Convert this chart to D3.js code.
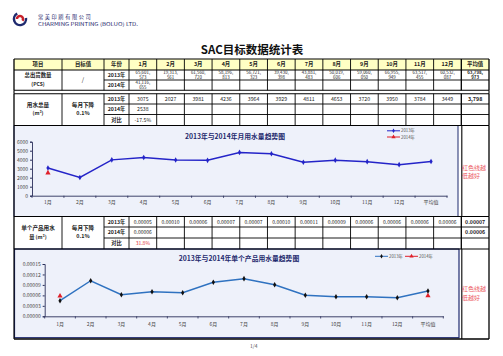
<!DOCTYPE html>
<html><head><meta charset="utf-8">
<script src="https://cdn.jsdelivr.net/npm/d3@7"></script>
<style>body{margin:0;background:#fff}svg{display:block}text{font-family:"Noto Sans CJK SC","DejaVu Sans",sans-serif}</style>
</head><body><svg id="c" width="503" height="356"></svg>
<script>
// ---------- data ----------
const months = ["1月","2月","3月","4月","5月","6月","7月","8月","9月","10月","11月","12月"];
const categories = months.concat(["平均值"]);
const headLabels = ["项目","目标值","年份"];
const shipments2013 = ["65,601,573","19,313,561","61,560,720","58,196,813","56,721,323","39,430,398","43,881,483","50,019,606","59,060,050","66,955,949","63,517,455","60,532,087","63,798,973"];
const shipments2014 = ["41,116,655"];
const water2013 = [3075,2027,3981,4236,3964,3929,4811,4653,3720,3950,3784,3449];
const water2013Avg = 3798;
const water2014 = [2538];
const waterCompare = ["-17.5%"];
const unit2013Text = ["0.00005","0.00010","0.00006","0.00007","0.00007","0.00010","0.00011","0.00009","0.00006","0.00006","0.00006","0.00006"];
const unit2013AvgText = "0.00007";
const unit2014Text = ["0.00006"];
const unit2014AvgText = "0.00006";
const unitCompare = ["31.8%"];
// chart series
const waterChart2013 = [3075,2027,3981,4236,3964,3929,4811,4653,3720,3950,3784,3449,3798];
const waterChart2014 = [2538,null,null,null,null,null,null,null,null,null,null,null,null];
const unitChart2013 = [0.0000447,0.000102,0.000062,0.0000706,0.0000677,0.0000975,0.000108,0.0000906,0.0000602,0.0000562,0.0000562,0.0000533,0.0000726];
const unitChart2014 = [0.0000583,null,null,null,null,null,null,null,null,null,null,null,0.000059];
const waterTicks = [0,1000,2000,3000,4000,5000,6000];
const unitTicks = [0,0.00003,0.00006,0.00009,0.00012,0.00015];
const seriesNames = ["2013年","2014年"];

// ---------- setup ----------
const svg = d3.select("#c");
const NAVY = "#1f2a6e", RED = "#e0202a";
const leftX = [14,62,104,129];
const col = d3.scaleBand().domain(categories).range([129,489]);
const colC = c => col(c) + col.bandwidth()/2;
const R = {top:59, head:70, s1:80, s2:90.3, w0:93.7, w1:104, w2:114.5, w3:125.5, u0:216.5, u1:227, u2:238, u3:249, end:339};

// logo
const logo = svg.append("g").attr("transform","translate(20,19)");
logo.append("circle").attr("r",7.3).attr("fill","#fff");
logo.append("path").attr("d", d3.arc().innerRadius(4.8).outerRadius(7.3).startAngle(Math.PI*0.45).endAngle(Math.PI*1.85)()).attr("fill",NAVY);
logo.append("path").attr("d", d3.arc().innerRadius(1.8).outerRadius(4.3).startAngle(-Math.PI*0.5).endAngle(Math.PI*0.7)()).attr("fill","#c8202a");
svg.append("text").attr("x",38).attr("y",19).attr("font-size",5.2).attr("fill",NAVY).attr("letter-spacing",1.6).text("常美印刷有限公司");
svg.append("text").attr("x",38).attr("y",25.5).attr("font-size",4.8).attr("fill",NAVY).attr("textLength",100).attr("lengthAdjust","spacingAndGlyphs").text("CHARMING PRINTING (BOLUO) LTD.");

// title
svg.append("text").attr("x",252).attr("y",54).attr("text-anchor","middle").attr("font-size",11.5).attr("font-weight","bold").attr("fill","#111").text("SAC目标数据统计表");

// header background
svg.append("rect").attr("x",14).attr("y",R.top).attr("width",475).attr("height",R.head-R.top).attr("fill","#ffffc4");

// chart backgrounds
svg.append("rect").attr("x",14).attr("y",R.w3).attr("width",444).attr("height",R.u0-R.w3).attr("fill","#eef1fa").attr("stroke",NAVY).attr("stroke-width",1);
svg.append("rect").attr("x",14.5).attr("y",R.u3).attr("width",444.5).attr("height",337.7-R.u3).attr("fill","#eef1fa").attr("stroke",NAVY).attr("stroke-width",1.2);

// ---------- table lines ----------
const lines = svg.append("g").attr("stroke","#000").attr("stroke-width",0.9);
function hline(y,x1,x2,w){lines.append("line").attr("x1",x1).attr("x2",x2).attr("y1",y).attr("y2",y).attr("stroke-width",w||0.9);}
function vline(x,y1,y2,w){lines.append("line").attr("x1",x).attr("x2",x).attr("y1",y1).attr("y2",y2).attr("stroke-width",w||0.9);}
[R.top,R.head,R.s2,R.w0,R.w3,R.u0,R.u3].forEach(y=>hline(y,14,489,1.1));
hline(R.end,14,489,1.3);
[R.s1].forEach(y=>hline(y,104,489));
[R.w1,R.w2,R.u1,R.u2].forEach(y=>hline(y,104,489));
const allX = leftX.concat(categories.slice(1).map(c=>col(c))).concat([489]);
[[R.top,R.s2],[R.w0,R.w3],[R.u0,R.u3]].forEach(([a,b])=>{
  allX.forEach(x=>vline(x,a,b, (x===col("平均值")||x===14||x===489)?1.3:0.9));
});
vline(14,R.s2,R.w0,1.1); vline(489,R.s2,R.w0,1.1);
[[R.w3,R.u0],[R.u3,R.end]].forEach(([a,b])=>{vline(14,a,b,1.1);vline(col("平均值")+0.5,a,b,1.1);vline(489,a,b,1.3);});

// ---------- table text ----------
const T = svg.append("g").attr("text-anchor","middle").attr("fill","#222");
function txt(x,y,s,opt){opt=opt||{};return T.append("text").attr("x",x).attr("y",y).attr("dy","0.35em").attr("font-size",opt.size||5.2).attr("font-weight",opt.bold?"bold":null).attr("fill",opt.fill||null).text(s);}
headLabels.forEach((h,i)=>txt((leftX[i]+(leftX[i+1]||129))/2,64.5,h,{bold:true,size:5.4}));
categories.forEach(c=>txt(colC(c),64.5,c,{bold:true,size:5.4}));
txt(38,75.5,"总出货数量",{bold:true,size:5.4}); txt(38,84.5,"(PCS)",{bold:true,size:5});
txt(83,80,"/",{size:6});
txt(116.5,75,"2013年",{bold:true}); txt(116.5,85.2,"2014年",{bold:true});
// clipped wrapped shipment values
const defs = svg.append("defs");
function wrapCell(c,y0,y1,s,bold){
  const id="cl"+Math.round(col(c))+"_"+Math.round(y0);
  defs.append("clipPath").attr("id",id).append("rect").attr("x",col(c)+0.5).attr("y",y0+0.6).attr("width",col.bandwidth()-1).attr("height",y1-y0-1.2);
  const parts = s.split(",");
  const l1 = parts.slice(0,2).join(",")+",", l2 = parts.slice(2).join(",");
  const g = T.append("g").attr("clip-path","url(#"+id+")");
  [[l1,y0+2.5],[l2,y0+7.6]].forEach(([t,yy])=>{
    g.append("text").attr("x",colC(c)).attr("y",yy).attr("dy","0.35em").attr("font-size",4.4)
      .attr("font-family",'"Liberation Sans",sans-serif').attr("font-weight",bold?"bold":null).text(t);
  });
}
shipments2013.forEach((s,i)=>wrapCell(categories[i],R.head,R.s1,s,i===12));
shipments2014.forEach((s,i)=>wrapCell(categories[i],R.s1,R.s2,s,false));

txt(38,105,"用水总量",{bold:true,size:5.6}); txt(38,113.5,"(m³)",{bold:true,size:5.2});
txt(83,105,"每月下降",{bold:true,size:5.6}); txt(83,113,"0.1%",{bold:true,size:5.4});
txt(116.5,99,"2013年",{bold:true}); txt(116.5,109.3,"2014年",{bold:true}); txt(116.5,120,"对比",{bold:true});
water2013.forEach((v,i)=>txt(colC(months[i]),99,String(v)));
txt(colC("平均值"),99,d3.format(",")(water2013Avg),{bold:true,size:5.4});
water2014.forEach((v,i)=>txt(colC(months[i]),109.3,String(v)));
waterCompare.forEach((v,i)=>txt(colC(months[i]),120,v));

txt(38,228.5,"单个产品用水",{bold:true,size:5.6}); txt(38,237,"量 (m³)",{bold:true,size:5.2});
txt(83,228.5,"每月下降",{bold:true,size:5.6}); txt(83,236.5,"0.1%",{bold:true,size:5.4});
txt(116.5,222,"2013年",{bold:true}); txt(116.5,232.5,"2014年",{bold:true}); txt(116.5,243.5,"对比",{bold:true});
unit2013Text.forEach((v,i)=>txt(colC(months[i]),222,v,{size:5}));
txt(colC("平均值"),222,unit2013AvgText,{bold:true,size:5.2});
unit2014Text.forEach((v,i)=>txt(colC(months[i]),232.5,v,{size:5}));
txt(colC("平均值"),232.5,unit2014AvgText,{bold:true,size:5.2});
unitCompare.forEach((v,i)=>txt(colC(months[i]),243.5,v,{size:5,fill:"#e0303a"}));

// note text
[[168,176],[289,298]].forEach(([a,b])=>{
  svg.append("text").attr("x",462).attr("y",a).attr("dy","0.35em").attr("font-size",6).attr("fill","#ec5a64").text("红色线越");
  svg.append("text").attr("x",462).attr("y",b).attr("dy","0.35em").attr("font-size",6).attr("fill","#ec5a64").text("低越好");
});
svg.append("text").attr("x",250).attr("y",346).attr("dy","0.35em").attr("font-size",5).attr("fill","#555").text("1/4");

// ---------- charts ----------
function chart(o){
  const g = svg.append("g");
  const x = d3.scaleBand().domain(categories).range(o.xr);
  const y = d3.scaleLinear().domain(o.yd).range(o.yr);
  const cx = c => x(c)+x.bandwidth()/2;
  g.append("g").attr("transform",`translate(${o.xr[0]},0)`)
    .call(d3.axisLeft(y).tickValues(o.ticks).tickSize(2).tickPadding(2).tickFormat(o.fmt));
  g.append("g").attr("transform",`translate(0,${o.yr[0]})`)
    .call(d3.axisBottom(x).tickSize(0).tickPadding(o.xpad));
  g.selectAll(".domain").attr("stroke","#2a2f5a").attr("stroke-width",0.9);
  g.selectAll(".tick line").attr("stroke","#2a2f5a");
  g.selectAll(".tick text").attr("font-size",5).attr("fill","#444").attr("font-family",'"Noto Sans CJK SC",sans-serif');
  g.append("g").selectAll("line").data(categories.concat(["end"])).join("line")
    .attr("x1",d=>d==="end"?o.xr[1]:x(d)).attr("x2",d=>d==="end"?o.xr[1]:x(d))
    .attr("y1",o.yr[0]).attr("y2",o.yr[0]+2.2).attr("stroke","#2a2f5a").attr("stroke-width",0.8);
  const pts = o.s13.map((v,i)=>({c:categories[i],v}));
  g.append("path").datum(pts).attr("fill","none").attr("stroke",o.lineColor).attr("stroke-width",1.5)
    .attr("d",d3.line().x(d=>cx(d.c)).y(d=>y(d.v)));
  g.selectAll(".m13").data(pts).join("path").attr("transform",d=>`translate(${cx(d.c)},${y(d.v)})`)
    .attr("d",d3.symbol(d3.symbolDiamond).size(9)).attr("fill",o.markColor);
  const p14 = o.s14.map((v,i)=>({c:categories[i],v})).filter(d=>d.v!==null);
  g.selectAll(".m14").data(p14).join("path").attr("transform",d=>`translate(${cx(d.c)},${y(d.v)})`)
    .attr("d",d3.symbol(d3.symbolTriangle).size(12)).attr("fill",RED);
  g.append("text").attr("x",o.title[1]).attr("y",o.title[2]).attr("dy","0.35em").attr("text-anchor","middle")
    .attr("font-size",6.8).attr("font-weight","bold").attr("fill",NAVY).text(o.title[0]);
  // legend
  o.legend.forEach((L,i)=>{
    const col2 = i===0?o.lineColor:RED;
    g.append("line").attr("x1",L[0]).attr("x2",L[0]+13).attr("y1",L[1]).attr("y2",L[1]).attr("stroke",col2).attr("stroke-width",1);
    g.append("path").attr("transform",`translate(${L[0]+6.5},${L[1]})`).attr("d",d3.symbol(i===0?d3.symbolDiamond:d3.symbolTriangle).size(i===0?6:8)).attr("fill",i===0?o.markColor:RED);
    g.append("text").attr("x",L[0]+14).attr("y",L[1]).attr("dy","0.35em").attr("font-size",4.3).attr("fill","#555").text(seriesNames[i]);
  });
}
chart({xr:[32,447], yr:[195.7,141.7], yd:[0,6000], ticks:waterTicks, fmt:d3.format("d"), xpad:5,
  s13:waterChart2013, s14:waterChart2014, lineColor:"#2424c8", markColor:"#2424c8",
  title:["2013年与2014年月用水量趋势图",235,136.5], legend:[[387,130.8],[387,137]]});
chart({xr:[44.7,443.3], yr:[316.3,264], yd:[0,0.00015], ticks:unitTicks, fmt:d3.format(".5f"), xpad:6,
  s13:unitChart2013, s14:unitChart2014, lineColor:"#2f72c0", markColor:"#111",
  title:["2013年与2014年单个产品用水量趋势图",239,259], legend:[[375,256.3],[405,256.3]]});
</script></body></html>
